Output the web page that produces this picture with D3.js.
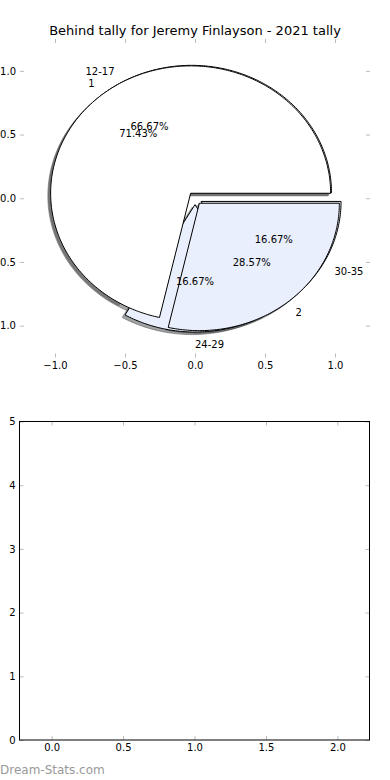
<!DOCTYPE html>
<html><head><meta charset="utf-8">
<script src="https://cdn.jsdelivr.net/npm/d3@7"></script>
<style>
body{margin:0;background:#fff}
svg{display:block}
text{font-family:"DejaVu Sans",sans-serif}
</style>
</head><body>
<svg id="c" width="390" height="780"></svg>
<script>
const title = "Behind tally for Jeremy Finlayson - 2021 tally";
const outerLabels = ["12-17", "24-29", "30-35"];
const outerValues = [4, 1, 1];
const innerLabels = ["1", "2"];
const innerValues = [5, 2];
const pieTicks = [-1, -0.5, 0, 0.5, 1];
const barXTicks = [0, 0.5, 1, 1.5, 2];
const barYTicks = [0, 1, 2, 3, 4, 5];
const explodeAmt = 0.05;
const sliceColors = ["#ffffff", "#e9effc", "#e9effc"];
const watermark = "Dream-Stats.com";

const svg = d3.select("#c");

// ---------- Pie axes ----------
const px = d3.scaleLinear().domain([-1.25, 1.25]).range([20, 370]);
const py = d3.scaleLinear().domain([-1.25, 1.25]).range([357.5, 39]);

svg.append("text").attr("x", 195).attr("y", 30).attr("dy", "0.35em")
  .attr("text-anchor", "middle").attr("font-size", 13).attr("fill", "#000").text(title);

const fmt1 = d3.format(".1f");
function styleAxis(g) {
  g.select(".domain").remove();
  g.selectAll(".tick line").attr("stroke", "#bbb").attr("stroke-width", 1);
  g.selectAll(".tick text").attr("font-size", 10).attr("fill", "#000").attr("font-family", "DejaVu Sans");
}
svg.append("g").attr("transform", `translate(0,${py.range()[0]})`)
  .call(d3.axisBottom(px).tickValues(pieTicks).tickSize(-4).tickPadding(4).tickFormat(fmt1)).call(styleAxis);
svg.append("g").attr("transform", `translate(0,${py.range()[1]})`)
  .call(d3.axisTop(px).tickValues(pieTicks).tickSize(-4).tickFormat("")).call(styleAxis);
svg.append("g").attr("transform", `translate(${px.range()[0]},0)`)
  .call(d3.axisLeft(py).tickValues(pieTicks).tickSize(-4).tickPadding(4).tickFormat(fmt1)).call(styleAxis);
svg.append("g").attr("transform", `translate(${px.range()[1]},0)`)
  .call(d3.axisRight(py).tickValues(pieTicks).tickSize(-4).tickFormat("")).call(styleAxis);

const gShadow = svg.append("g");
const gWedge = svg.append("g");
const gText = svg.append("g");

const pieGen = d3.pie().sort(null).value(d => d);
const line = d3.line().x(d => d[0]).y(d => d[1]);
const pctFmt = d => d3.format(".2f")(d) + "%";
const sdx = px(-0.02) - px(0), sdy = py(-0.02) - py(0);

function wedgePoints(cx, cy, t1, t2) {
  const pts = [[px(cx), py(cy)]];
  const n = Math.max(2, Math.ceil((t2 - t1) / (Math.PI / 180)));
  for (let i = 0; i <= n; i++) {
    const t = t1 + (t2 - t1) * i / n;
    pts.push([px(cx + Math.cos(t)), py(cy + Math.sin(t))]);
  }
  pts.push([px(cx), py(cy)]);
  return pts;
}

function drawPie(values, labels) {
  const total = d3.sum(values);
  const arcs = pieGen(values);
  arcs.forEach((a, i) => {
    const t1 = a.startAngle, t2 = a.endAngle, mid = (t1 + t2) / 2;
    const cx = explodeAmt * Math.cos(mid), cy = explodeAmt * Math.sin(mid);
    const pts = wedgePoints(cx, cy, t1, t2);
    const col = d3.rgb(sliceColors[i % sliceColors.length]);
    const sc = `rgba(${Math.round(col.r * 0.3)},${Math.round(col.g * 0.3)},${Math.round(col.b * 0.3)},0.5)`;
    gShadow.append("path").attr("d", line(pts) + "Z")
      .attr("transform", `translate(${sdx},${sdy})`)
      .attr("fill", sc).attr("stroke", sc).attr("stroke-width", 1);
    gWedge.append("path").attr("d", line(pts) + "Z")
      .attr("fill", sliceColors[i % sliceColors.length]).attr("stroke", "#000")
      .attr("stroke-width", 1).attr("stroke-linejoin", "miter");
    const lx = cx + 1.1 * Math.cos(mid), ly = cy + 1.1 * Math.sin(mid);
    gText.append("text").attr("x", px(lx)).attr("y", py(ly)).attr("dy", "0.35em")
      .attr("text-anchor", Math.cos(mid) > -1e-9 ? "start" : "end")
      .attr("font-size", 10).attr("fill", "#000").text(labels[i]);
    const tx = cx + 0.6 * Math.cos(mid), ty = cy + 0.6 * Math.sin(mid);
    gText.append("text").attr("x", px(tx)).attr("y", py(ty)).attr("dy", "0.35em")
      .attr("text-anchor", "middle").attr("font-size", 10).attr("fill", "#000")
      .text(pctFmt(values[i] / total * 100));
  });
}
drawPie(outerValues, outerLabels);
drawPie(innerValues, innerLabels);

// ---------- Empty bar axes ----------
const bx = d3.scaleLinear().domain([-0.225, 2.225]).range([19.5, 369.5]);
const by = d3.scaleLinear().domain([0, 5]).range([740, 421.5]);
svg.append("g").attr("transform", `translate(0,${by.range()[0]})`)
  .call(d3.axisBottom(bx).tickValues(barXTicks).tickSize(-4).tickPadding(4).tickFormat(fmt1)).call(styleAxis);
svg.append("g").attr("transform", `translate(0,${by.range()[1]})`)
  .call(d3.axisTop(bx).tickValues(barXTicks).tickSize(-4).tickFormat("")).call(styleAxis);
svg.append("g").attr("transform", `translate(${bx.range()[0]},0)`)
  .call(d3.axisLeft(by).tickValues(barYTicks).tickSize(-4).tickPadding(4).tickFormat(d3.format("d"))).call(styleAxis);
svg.append("g").attr("transform", `translate(${bx.range()[1]},0)`)
  .call(d3.axisRight(by).tickValues(barYTicks).tickSize(-4).tickFormat("")).call(styleAxis);
svg.append("rect").attr("x", bx.range()[0]).attr("y", by.range()[1])
  .attr("width", bx.range()[1] - bx.range()[0]).attr("height", by.range()[0] - by.range()[1])
  .attr("fill", "none").attr("stroke", "#000").attr("stroke-width", 1);

svg.append("text").attr("x", 0).attr("y", 770).attr("dy", "0.35em")
  .attr("font-size", 12).attr("fill", "#999").text(watermark);
</script>
</body></html>
